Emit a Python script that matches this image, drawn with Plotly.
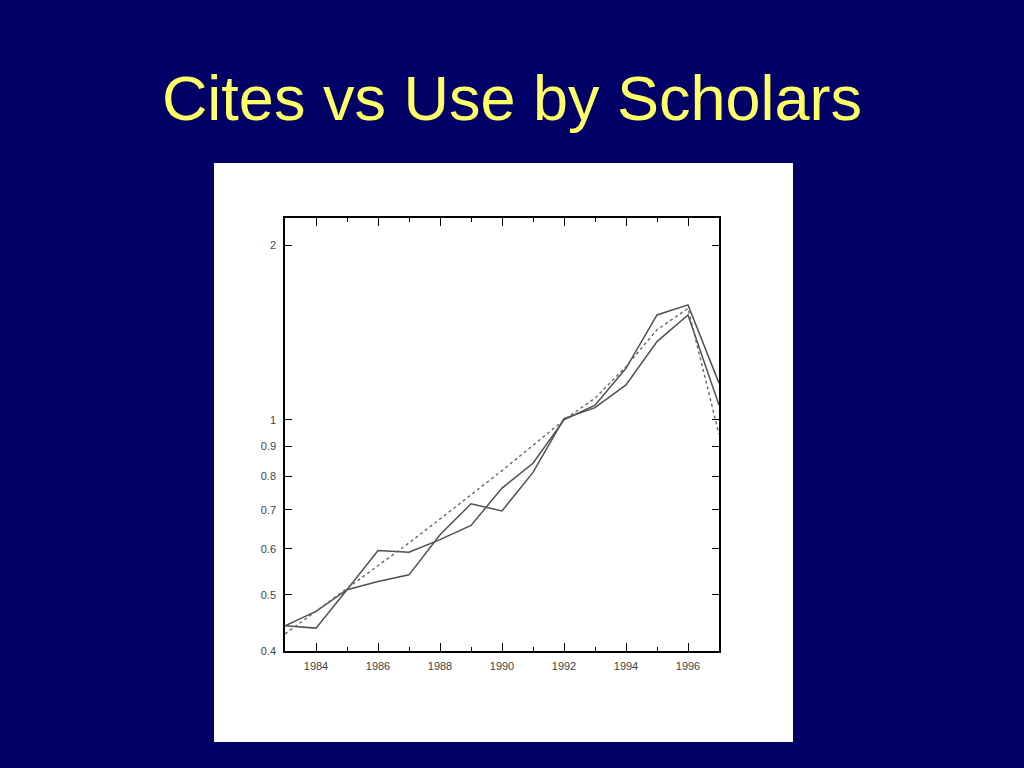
import plotly.graph_objects as go
import math

years = list(range(1983, 1998))
series_a = [0.442, 0.438, 0.510, 0.596, 0.592, 0.622, 0.658, 0.763, 0.842, 1.000, 1.060, 1.227, 1.516, 1.578, 1.157]
series_b = [0.442, 0.468, 0.510, 0.527, 0.541, 0.634, 0.717, 0.697, 0.812, 1.005, 1.050, 1.149, 1.364, 1.516, 1.061]
trend = [0.428, 0.468, 0.512, 0.560, 0.614, 0.675, 0.743, 0.818, 0.904, 1.000, 1.090, 1.235, 1.430, 1.556, 0.945]

y_tickvals = [0.4, 0.5, 0.6, 0.7, 0.8, 0.9, 1, 2]
y_ticktext = ["0.4", "0.5", "0.6", "0.7", "0.8", "0.9", "1", "2"]
x_tickvals = [1984, 1986, 1988, 1990, 1992, 1994, 1996]
x_ticktext = ["1984", "1986", "1988", "1990", "1992", "1994", "1996"]

fig = go.Figure()
fig.add_trace(go.Scatter(x=years, y=series_a, mode="lines",
                         line=dict(color="#505050", width=1.5), showlegend=False))
fig.add_trace(go.Scatter(x=years, y=series_b, mode="lines",
                         line=dict(color="#505050", width=1.5), showlegend=False))
fig.add_trace(go.Scatter(x=years, y=trend, mode="lines",
                         line=dict(color="#666666", width=1.4, dash="dot"), showlegend=False))

W, H = 1024, 768
pl, pr, pt, pb = 285, 719, 218, 651
pw, ph = pr - pl, pb - pt

def px_x(x):
    return (x - pl) / pw

def px_y(y):
    return (pb - y) / ph

fig.add_shape(type="rect", xref="paper", yref="paper",
              x0=px_x(214), x1=px_x(793), y0=px_y(742), y1=px_y(163),
              fillcolor="white", line=dict(width=0), layer="below")

fig.update_layout(
    width=W, height=H,
    paper_bgcolor="#000066",
    plot_bgcolor="white",
    margin=dict(l=pl, r=W - pr, t=pt, b=H - pb, autoexpand=False),
    title=dict(text="Cites vs Use by Scholars", x=0.5, xanchor="center",
               y=1 - 98 / H, yanchor="middle",
               font=dict(family="Liberation Sans, Arial, sans-serif", size=63, color="#FFFF66")),
    font=dict(family="Liberation Sans, Arial, sans-serif"),
)

fig.update_xaxes(
    range=[1983, 1997], showgrid=False, zeroline=False,
    showline=True, linecolor="black", linewidth=1.5, mirror="ticks",
    ticks="inside", ticklen=8, tickwidth=1.2, tickcolor="black",
    tickvals=x_tickvals, ticktext=x_ticktext, ticklabelstandoff=4,
    tickfont=dict(size=11, color="#444444"),
    minor=dict(ticks="inside", ticklen=4, tickwidth=1, tickcolor="black", dtick=1, tick0=1983, showgrid=False),
)
fig.update_yaxes(
    type="log", range=[math.log10(0.4), math.log10(2.227)],
    showgrid=False, zeroline=False,
    showline=True, linecolor="black", linewidth=1.5, mirror="ticks",
    ticks="inside", ticklen=7, tickwidth=1.2, tickcolor="black",
    tickvals=y_tickvals, ticktext=y_ticktext, ticklabelstandoff=5,
    tickfont=dict(size=11, color="#444444"),
)

fig.write_html("out.html",
               config={"displayModeBar": False},
               post_script="document.body.style.margin='0';document.body.style.padding='0';document.body.style.overflow='hidden';")
